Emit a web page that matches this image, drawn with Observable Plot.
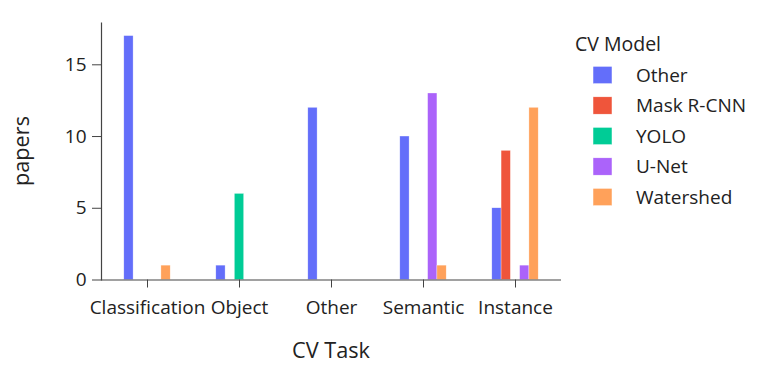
<!DOCTYPE html>
<html><head><meta charset="utf-8">
<script src="https://cdn.jsdelivr.net/npm/d3@7"></script>
<script src="https://cdn.jsdelivr.net/npm/@observablehq/plot@0.6"></script>
<style>body{margin:0;background:#fff} #chart{width:763px;height:369px}</style>
</head><body><div id="chart"></div>
<script>
const tasks = ["Classification", "Object", "Other", "Semantic", "Instance"];
const models = ["Other", "Mask R-CNN", "YOLO", "U-Net", "Watershed"];
const colors = ["#636efa", "#EF553B", "#00cc96", "#ab63fa", "#FFA15A"];
const otherCounts = [17, 1, 12, 10, 5];
const maskRcnnCounts = [0, 0, 0, 0, 9];
const yoloCounts = [0, 6, 0, 0, 0];
const unetCounts = [0, 0, 0, 13, 1];
const watershedCounts = [1, 0, 0, 1, 12];
const yTicks = [0, 5, 10, 15];

const counts = [otherCounts, maskRcnnCounts, yoloCounts, unetCounts, watershedCounts];
const rows = [];
models.forEach((m, i) => counts[i].forEach((v, j) => { if (v > 0) rows.push({task: tasks[j], model: m, papers: v}); }));

const FONT = "'Open Sans', verdana, arial, sans-serif";
const TEXT = "#222";
const AXIS = "#444";

const plot = Plot.plot({
  width: 763, height: 369,
  marginLeft: 100, marginRight: 201.3, marginTop: 22.7, marginBottom: 89.5,
  style: {fontFamily: FONT, background: "white", color: TEXT},
  fx: {domain: tasks, padding: 0, label: null, axis: null},
  x: {domain: models, paddingInner: 0, paddingOuter: 2.46, round: false, axis: null},
  y: {domain: [0, 17.9], axis: null},
  color: {domain: models, range: colors},
  marks: [
    Plot.barY(rows, {fx: "task", x: "model", y: "papers", fill: "model", stroke: "white", strokeWidth: 0.5, strokeOpacity: 0.6}),
    Plot.ruleY([0], {stroke: AXIS, strokeWidth: 1.2}),
    Plot.frame({anchor: "left", facetAnchor: "left", stroke: AXIS, strokeWidth: 1.2}),
    Plot.axisY({ticks: yTicks, tickSize: 9, tickPadding: 6, fontSize: 19, label: null, stroke: AXIS}),
    Plot.axisFx({anchor: "bottom", tickSize: 8, tickPadding: 12, fontSize: 19, label: null, stroke: AXIS})
  ]
});

const svg = d3.select(plot);
svg.append("text").attr("transform", "translate(21,151) rotate(-90)")
  .attr("text-anchor", "middle").attr("dy", "0.35em")
  .style("font-family", FONT).style("font-size", "21.7px").attr("fill", TEXT).text("papers");
svg.append("text").attr("x", 331).attr("y", 358)
  .attr("text-anchor", "middle")
  .style("font-family", FONT).style("font-size", "21.7px").attr("fill", TEXT).text("CV Task");

const lg = svg.append("g").attr("text-anchor", "start");
lg.append("text").attr("x", 575).attr("y", 51).attr("text-anchor", "start")
  .style("font-family", FONT).style("font-size", "19.5px").attr("fill", TEXT).text("CV Model");
models.forEach((m, i) => {
  const cy = 75 + i * 30.5;
  lg.append("rect").attr("x", 593).attr("y", cy - 8.7).attr("width", 19).attr("height", 17.4)
    .attr("fill", colors[i]).attr("stroke", "white").attr("stroke-width", 0.5);
  lg.append("text").attr("x", 636).attr("y", cy).attr("dy", "0.35em").attr("text-anchor", "start")
    .style("font-family", FONT).style("font-size", "19px").attr("fill", TEXT).text(m);
});

document.getElementById("chart").appendChild(plot);
</script>
</body></html>
